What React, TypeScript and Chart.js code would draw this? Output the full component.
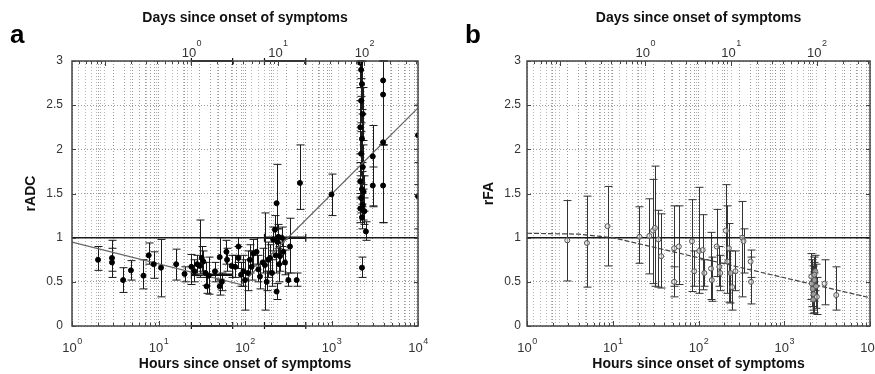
import React, { useEffect, useRef } from 'react';
import { Chart, registerables } from 'chart.js';

Chart.register(...registerables);

const FONT = '"Liberation Sans", Arial, Helvetica, sans-serif';
Chart.defaults.font.family = FONT;
Chart.defaults.color = '#333';

// ---------- axis / tick data ----------
const hourRange = [1, 10000];
const hoursPerDay = 24;
const hourLabelExponents = [0, 1, 2, 3, 4];
const dayLabelExponents = [0, 1, 2];
const yRange = [0, 3];
const yStep = 0.5;
const decadeMantissas = [1, 2, 3, 4, 5, 6, 7, 8, 9];
const hourDecades = [0, 1, 2, 3];
const dayDecades = [-2, -1, 0, 1, 2];
const referenceLevel = 1;

// ---------- panel a : rADC ----------
const hoursA = [
  2.0, 2.9, 2.9, 3.9, 4.8, 6.7, 7.7, 8.8, 10.7, 16, 20,
  24, 26, 28, 30, 31.6, 33, 35, 36, 38, 45, 51, 51, 54, 61, 62, 70, 77, 84, 84, 90, 96, 100,
  108, 114, 119, 125, 136, 143, 149, 160, 170, 178, 185, 195, 205, 212, 222, 226, 232, 232,
  238, 243, 248, 254, 265, 277, 290, 317, 331, 396, 432,
  1000, 2150, 2200, 2250, 2200, 2300, 2150, 2250, 2200, 2300, 2150, 2250, 2350, 2200, 2300,
  2150, 2250, 2400, 2250, 2500, 3000, 3000, 3950, 3950, 3950, 3950, 10000, 10000,
];
const radcA = [
  0.75, 0.72, 0.77, 0.52, 0.63, 0.57, 0.80, 0.70, 0.66, 0.70, 0.59,
  0.67, 0.62, 0.70, 0.68, 0.77, 0.73, 0.60, 0.45, 0.57, 0.62, 0.78, 0.45, 0.50, 0.84, 0.75, 0.68, 0.67, 0.90, 0.77, 0.58, 0.62, 0.52,
  0.60, 0.75, 0.67, 0.82, 0.84, 0.64, 0.56, 0.72, 0.69, 0.50, 0.75, 0.77, 0.60, 0.98, 1.09, 0.80, 1.39, 0.39,
  0.95, 1.01, 0.70, 0.79, 1.00, 0.84, 0.72, 0.52, 0.90, 0.52, 1.62,
  1.49, 2.98, 2.90, 2.74, 2.55, 2.40, 2.25, 2.12, 1.95, 1.80, 1.64, 1.55, 1.52, 1.45, 1.37,
  1.33, 1.23, 1.30, 0.66, 1.07, 1.92, 1.59, 2.78, 2.62, 2.08, 1.59, 2.16, 1.47,
];
const radcLowA = [
  0.63, 0.55, 0.62, 0.38, 0.52, 0.42, 0.70, 0.54, 0.33, 0.52, 0.50,
  0.47, 0.50, 0.57, 0.55, 0.62, 0.60, 0.46, 0.37, 0.36, 0.50, 0.52, 0.35, 0.40, 0.70, 0.62, 0.55, 0.55, 0.72, 0.65, 0.45, 0.45, 0.18,
  0.40, 0.60, 0.52, 0.68, 0.70, 0.50, 0.42, 0.60, 0.18, 0.40, 0.55, 0.62, 0.45, 0.85, 0.95, 0.60, 1.10, 0.30,
  0.80, 0.88, 0.50, 0.62, 0.90, 0.70, 0.58, 0.45, 0.60, 0.45, 1.32,
  1.25, 2.70, 2.60, 2.45, 2.30, 2.10, 1.95, 1.85, 1.70, 1.60, 1.45, 1.35, 1.30, 1.28, 1.20,
  1.17, 1.10, 1.15, 0.55, 0.97, 1.36, 1.35, 2.05, 2.05, 1.17, 1.17, 1.85, 1.10,
];
const radcHighA = [
  0.90, 0.97, 0.88, 0.66, 0.74, 0.75, 0.94, 0.84, 0.98, 0.87, 0.67,
  0.81, 0.75, 0.80, 1.20, 0.90, 0.85, 0.72, 0.55, 0.78, 0.72, 1.00, 0.53, 0.60, 0.97, 0.88, 0.80, 0.80, 1.00, 0.90, 0.72, 0.80, 0.75,
  0.85, 0.92, 0.85, 0.98, 1.00, 0.80, 0.70, 0.88, 1.28, 0.62, 0.95, 0.92, 0.75, 1.12, 1.25, 1.00, 1.83, 0.48,
  1.10, 1.15, 0.90, 0.95, 1.12, 0.98, 0.86, 0.60, 1.22, 0.60, 2.05,
  1.72, 3.00, 3.00, 3.00, 2.80, 2.70, 2.55, 2.40, 2.20, 2.05, 1.85, 1.75, 1.70, 1.62, 1.55,
  1.50, 1.38, 1.45, 0.78, 1.18, 2.27, 1.80, 3.00, 3.00, 3.00, 2.05, 2.50, 1.60,
];
const fitHoursA = [1, 90, 10000];
const fitRadcA = [0.95, 0.47, 2.47];
const windowStartHours = [24, 168];
const windowEndHours = [72, 504];
const windowMeanRadc = [0.58, 1.0];

// ---------- panel b : rFA ----------
const hoursB = [
  2.95, 5.0, 8.7, 20.5, 26.7, 29.5, 31, 34, 36.7, 52, 52, 59, 84, 89, 102, 112, 117,
  140, 143, 163, 175, 179, 208, 217, 226, 236, 247, 270, 324, 335, 405, 410,
  2070, 2100, 2150, 2200, 2180, 2250, 2300, 2350, 2400, 2250, 2950, 4040,
];
const rfaB = [
  0.97, 0.94, 1.13, 1.01, 1.02, 1.08, 1.11, 0.98, 0.79, 0.50, 0.88, 0.90, 0.96, 0.62, 0.85, 0.86, 0.60,
  0.65, 0.52, 0.90, 0.67, 0.60, 1.08, 0.73, 0.88, 0.60, 0.44, 0.62, 1.00, 0.96, 0.73, 0.50,
  0.56, 0.48, 0.42, 0.36, 0.30, 0.52, 0.62, 0.45, 0.33, 0.58, 0.48, 0.35,
];
const rfaLowB = [
  0.51, 0.44, 0.68, 0.71, 0.59, 0.48, 0.45, 0.44, 0.43, 0.33, 0.45, 0.47, 0.39, 0.45, 0.37, 0.41, 0.45,
  0.30, 0.28, 0.56, 0.45, 0.40, 0.71, 0.37, 0.27, 0.26, 0.18, 0.40, 0.33, 0.60, 0.55, 0.25,
  0.30, 0.22, 0.18, 0.15, 0.14, 0.28, 0.40, 0.20, 0.13, 0.35, 0.24, 0.18,
];
const rfaHighB = [
  1.42, 1.47, 1.58, 1.35, 1.44, 1.66, 1.81, 1.31, 1.27, 0.67, 1.36, 1.36, 1.43, 0.85, 1.57, 1.26, 0.75,
  1.06, 0.78, 1.32, 0.90, 0.80, 1.60, 1.36, 1.16, 0.85, 0.60, 0.85, 1.41, 1.10, 0.86, 0.78,
  0.82, 0.75, 0.68, 0.60, 0.50, 0.78, 0.80, 0.70, 0.55, 0.72, 0.75, 0.67,
];
const fitHoursB = [1, 4, 10, 10000];
const fitRfaB = [1.05, 1.04, 1.0, 0.32];

// ---------- derived grid values ----------
const hourGrid = hourDecades
  .flatMap((e) => decadeMantissas.map((m) => m * Math.pow(10, e)))
  .concat([hourRange[1]]);
const dayMin = hourRange[0] / hoursPerDay;
const dayMax = hourRange[1] / hoursPerDay;
const dayGrid = dayDecades
  .flatMap((e) => decadeMantissas.map((m) => m * Math.pow(10, e)))
  .filter((d) => d >= dayMin && d <= dayMax);

// ---------- decoration plugin ----------
const decorPlugin = {
  id: 'decor',
  beforeDatasetsDraw(chart: any) {
    const o = chart.options.plugins.decor;
    const { ctx, chartArea: a, scales } = chart;
    const x = scales.x;
    const y = scales.y;
    ctx.save();
    ctx.beginPath();
    ctx.rect(a.left, a.top - 3, a.right - a.left, a.bottom - a.top + 6);
    ctx.clip();
    chart.data.datasets.forEach((ds: any) => {
      if (!ds.errLow) return;
      ctx.strokeStyle = ds.errColor;
      ctx.lineWidth = 1;
      ds.data.forEach((p: any, i: number) => {
        const px = Math.round(x.getPixelForValue(p.x)) + 0.5;
        const yl = y.getPixelForValue(ds.errLow[i]);
        const yh = y.getPixelForValue(ds.errHigh[i]);
        ctx.beginPath();
        ctx.moveTo(px, yl);
        ctx.lineTo(px, yh);
        ctx.moveTo(px - 4, yl);
        ctx.lineTo(px + 4, yl);
        ctx.moveTo(px - 4, yh);
        ctx.lineTo(px + 4, yh);
        ctx.stroke();
      });
    });
    if (o.windows) {
      const w = o.windows;
      ctx.strokeStyle = '#111';
      w.start.forEach((s: number, i: number) => {
        const x1 = x.getPixelForValue(s);
        const x2 = x.getPixelForValue(w.end[i]);
        [w.mean[i], y.max, y.min].forEach((lvl: number, k: number) => {
          const py = y.getPixelForValue(lvl);
          ctx.lineWidth = k === 0 ? 2.5 : 2;
          ctx.beginPath();
          ctx.moveTo(x1, py);
          ctx.lineTo(x2, py);
          ctx.stroke();
          ctx.lineWidth = 1.2;
          ctx.beginPath();
          ctx.moveTo(x1, py - 4);
          ctx.lineTo(x1, py + 4);
          ctx.moveTo(x2, py - 4);
          ctx.lineTo(x2, py + 4);
          ctx.stroke();
        });
      });
    }
    ctx.restore();
  },
  afterDraw(chart: any) {
    const o = chart.options.plugins.decor;
    const { ctx, chartArea: a, scales } = chart;
    const x = scales.x;
    const x2 = scales.x2;
    const y = scales.y;
    ctx.save();
    // inward ticks
    ctx.strokeStyle = '#444';
    ctx.lineWidth = 1;
    ctx.beginPath();
    hourGrid.forEach((v) => {
      const px = Math.round(x.getPixelForValue(v)) + 0.5;
      const len = decadeMantissas.indexOf(Math.round(v / Math.pow(10, Math.floor(Math.log10(v) + 1e-9)))) === 0 ? 5 : 3;
      ctx.moveTo(px, a.bottom);
      ctx.lineTo(px, a.bottom - len);
    });
    dayGrid.forEach((v) => {
      const px = Math.round(x2.getPixelForValue(v)) + 0.5;
      const m = Math.round(v / Math.pow(10, Math.floor(Math.log10(v) + 1e-9)));
      const len = m === 1 ? 5 : 3;
      ctx.moveTo(px, a.top);
      ctx.lineTo(px, a.top + len);
    });
    for (let v = yRange[0]; v <= yRange[1] + 1e-9; v += yStep) {
      const py = Math.round(y.getPixelForValue(v)) + 0.5;
      ctx.moveTo(a.left, py);
      ctx.lineTo(a.left + 4, py);
      ctx.moveTo(a.right, py);
      ctx.lineTo(a.right - 4, py);
    }
    ctx.stroke();
    // box
    ctx.strokeStyle = '#444';
    ctx.lineWidth = 1.5;
    ctx.strokeRect(a.left, a.top, a.right - a.left, a.bottom - a.top);
    // power-of-ten labels
    const drawPow = (sx: number, exp: number, yBase: number, yExp: number) => {
      ctx.font = `13px ${FONT}`;
      const w1 = ctx.measureText('10').width;
      ctx.font = `9px ${FONT}`;
      const w2 = ctx.measureText(String(exp)).width;
      const start = sx - (w1 + w2) / 2;
      ctx.fillStyle = '#333';
      ctx.textAlign = 'left';
      ctx.textBaseline = 'alphabetic';
      ctx.font = `13px ${FONT}`;
      ctx.fillText('10', start, yBase);
      ctx.font = `9px ${FONT}`;
      ctx.fillText(String(exp), start + w1 + 0.5, yExp);
    };
    hourLabelExponents.forEach((e) => {
      drawPow(x.getPixelForValue(Math.pow(10, e)), e, a.bottom + 26, a.bottom + 17.5);
    });
    dayLabelExponents.forEach((e) => {
      drawPow(x2.getPixelForValue(Math.pow(10, e)), e, a.top - 4.5, a.top - 15);
    });
    // panel letter
    ctx.fillStyle = '#000';
    ctx.font = `bold 26px ${FONT}`;
    ctx.textAlign = 'left';
    ctx.textBaseline = 'alphabetic';
    ctx.fillText(o.letter, o.letterX, 43);
    ctx.restore();
  },
};

type PanelSpec = {
  hours: number[];
  vals: number[];
  lows: number[];
  highs: number[];
  fitHours: number[];
  fitVals: number[];
  yTitle: string;
  letter: string;
  letterX: number;
  yAxisWidth: number;
  padRight: number;
  tickPad: number;
  yTitlePad: number;
  filled: boolean;
  fitDash: number[];
  fitColor: string;
  windows?: any;
};

function makeConfig(p: PanelSpec): any {
  const titleFont = { size: 14, weight: 'bold' as const, family: FONT };
  return {
    type: 'scatter',
    data: {
      datasets: [
        {
          type: 'scatter',
          xAxisID: 'x',
          yAxisID: 'y',
          data: p.hours.map((h, i) => ({ x: h, y: p.vals[i] })),
          errLow: p.lows,
          errHigh: p.highs,
          errColor: p.filled ? '#1a1a1a' : '#333',
          pointRadius: 2.5,
          pointBackgroundColor: p.filled ? '#000' : 'rgba(225,225,225,0.6)',
          pointBorderColor: p.filled ? '#000' : '#555',
          pointBorderWidth: 1,
          showLine: false,
        },
        {
          type: 'line',
          xAxisID: 'x',
          yAxisID: 'y',
          data: p.fitHours.map((h, i) => ({ x: h, y: p.fitVals[i] })),
          borderColor: p.fitColor,
          borderWidth: 1.2,
          borderDash: p.fitDash,
          pointRadius: 0,
          showLine: true,
          fill: false,
          tension: 0,
        },
        {
          type: 'line',
          xAxisID: 'x',
          yAxisID: 'y',
          data: hourRange.map((h) => ({ x: h, y: referenceLevel })),
          borderColor: '#1a1a1a',
          borderWidth: 1.5,
          pointRadius: 0,
          showLine: true,
          fill: false,
        },
      ],
    },
    options: {
      responsive: false,
      animation: false,
      events: [],
      layout: { padding: { left: 0, right: p.padRight, top: 0, bottom: 0 } },
      plugins: {
        legend: { display: false },
        tooltip: { enabled: false },
        decor: { letter: p.letter, letterX: p.letterX, windows: p.windows },
      },
      scales: {
        x: {
          type: 'logarithmic',
          position: 'bottom',
          min: hourRange[0],
          max: hourRange[1],
          afterBuildTicks: (s: any) => {
            s.ticks = hourGrid.map((v) => ({ value: v }));
          },
          afterFit: (s: any) => {
            s.height = 48;
          },
          ticks: { display: false },
          grid: { color: '#9a9a9a', lineWidth: 1, drawTicks: false },
          border: { display: false, dash: [1, 2] },
          title: {
            display: true,
            text: 'Hours since onset of symptoms',
            font: titleFont,
            color: '#111',
            padding: { top: 0, bottom: 1 },
          },
        },
        x2: {
          type: 'logarithmic',
          position: 'top',
          min: dayMin,
          max: dayMax,
          afterBuildTicks: (s: any) => {
            s.ticks = dayGrid.map((v) => ({ value: v }));
          },
          afterFit: (s: any) => {
            s.height = 61;
          },
          ticks: { display: false },
          grid: { color: '#b5b5b5', lineWidth: 1, drawTicks: false },
          border: { display: false, dash: [1, 2] },
          title: {
            display: true,
            text: 'Days since onset of symptoms',
            font: titleFont,
            color: '#111',
            padding: { top: 10, bottom: 0 },
          },
        },
        y: {
          type: 'linear',
          position: 'left',
          min: yRange[0],
          max: yRange[1],
          afterFit: (s: any) => {
            s.width = p.yAxisWidth;
          },
          ticks: {
            stepSize: yStep,
            padding: p.tickPad,
            font: { size: 12, family: FONT },
            color: '#333',
            callback: (v: any) => String(v),
          },
          grid: { color: '#9a9a9a', lineWidth: 1, drawTicks: false },
          border: { display: false, dash: [1, 2] },
          title: {
            display: true,
            text: p.yTitle,
            font: titleFont,
            color: '#111',
            padding: { top: p.yTitlePad, bottom: 0 },
          },
        },
      },
    },
    plugins: [decorPlugin],
  };
}

function Panel({ spec, left, width }: { spec: PanelSpec; left: number; width: number }) {
  const ref = useRef<HTMLCanvasElement | null>(null);
  useEffect(() => {
    if (!ref.current) return;
    const chart = new Chart(ref.current, makeConfig(spec));
    return () => chart.destroy();
  }, []);
  return (
    <canvas
      ref={ref}
      width={width}
      height={374}
      style={{ position: 'absolute', left, top: 0, width, height: 374 }}
    />
  );
}

const specA: PanelSpec = {
  hours: hoursA,
  vals: radcA,
  lows: radcLowA,
  highs: radcHighA,
  fitHours: fitHoursA,
  fitVals: fitRadcA,
  yTitle: 'rADC',
  letter: 'a',
  letterX: 10,
  yAxisWidth: 72,
  padRight: 22,
  tickPad: 9,
  yTitlePad: 22.6,
  filled: true,
  fitDash: [],
  fitColor: '#666',
  windows: { start: windowStartHours, end: windowEndHours, mean: windowMeanRadc },
};

const specB: PanelSpec = {
  hours: hoursB,
  vals: rfaB,
  lows: rfaLowB,
  highs: rfaHighB,
  fitHours: fitHoursB,
  fitVals: fitRfaB,
  yTitle: 'rFA',
  letter: 'b',
  letterX: 25,
  yAxisWidth: 87,
  padRight: 1,
  tickPad: 6,
  yTitlePad: 40.6,
  filled: false,
  fitDash: [5, 2],
  fitColor: '#444',
};

export default function App() {
  return (
    <div
      style={{
        position: 'absolute',
        left: 0,
        top: 0,
        width: 875,
        height: 374,
        background: '#fff',
        overflow: 'hidden',
      }}
    >
      <Panel spec={specA} left={0} width={440} />
      <Panel spec={specB} left={440} width={435} />
    </div>
  );
}
